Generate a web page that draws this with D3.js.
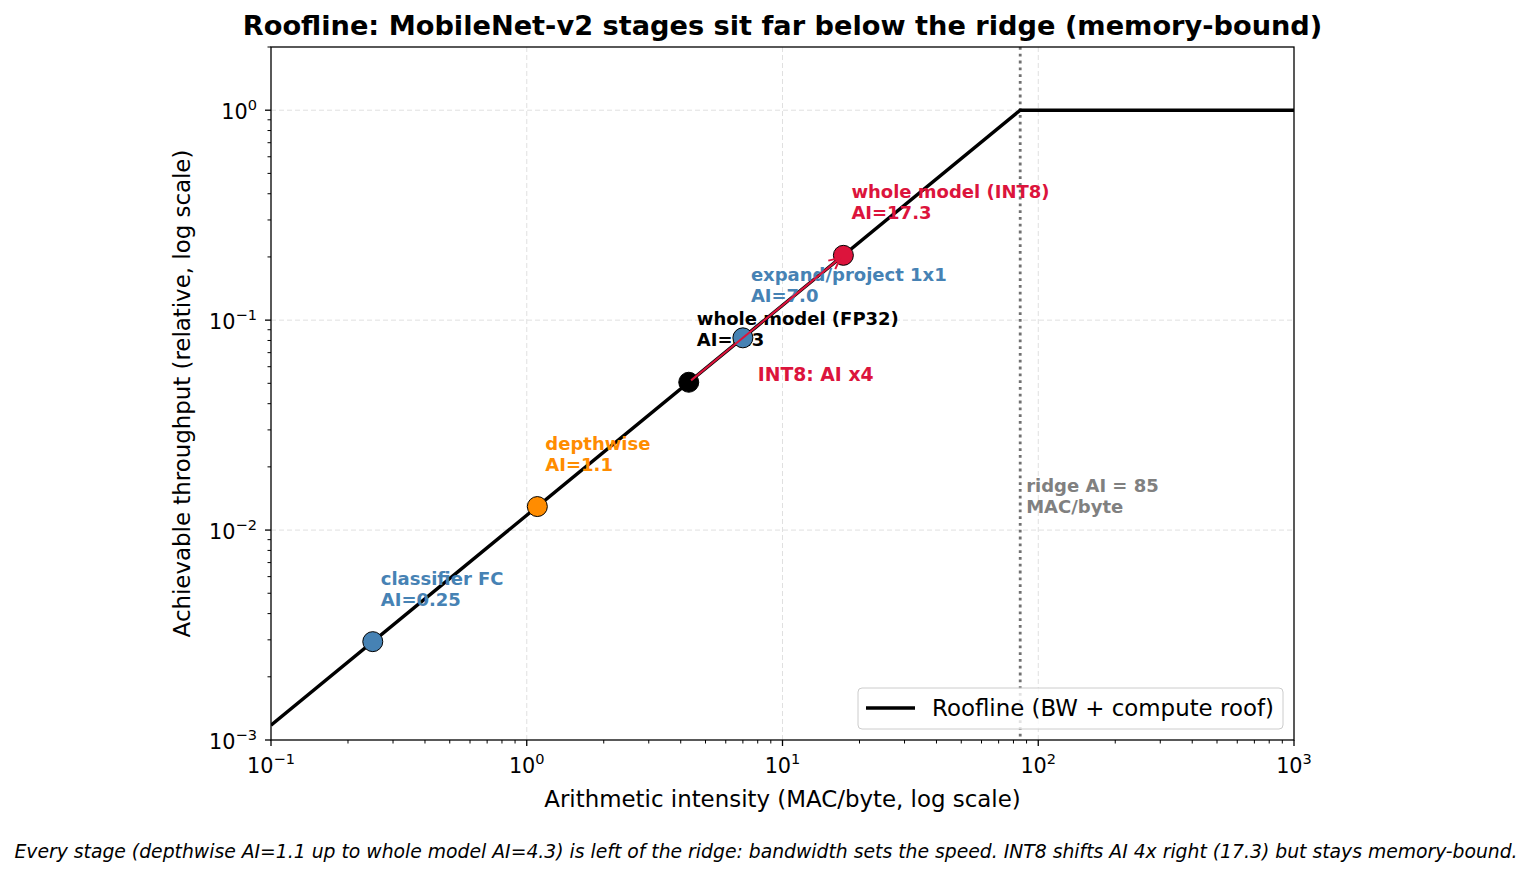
<!DOCTYPE html>
<html>
<head>
<meta charset="utf-8">
<script src="https://cdn.jsdelivr.net/npm/d3@7/dist/d3.min.js"></script>
<style>
  body { margin: 0; padding: 0; background: #fff; }
  svg { display: block; font-family: 'DejaVu Sans', sans-serif; }
</style>
</head>
<body>
<div id="main"></div>
<script>
// --- data ---
const stageNames = ['classifier FC', 'depthwise', 'whole model (FP32)', 'expand/project 1x1', 'whole model (INT8)'];
const stageAI = [0.25, 1.1, 4.3, 7.0, 17.3];
const stageLabels = ['AI=0.25', 'AI=1.1', 'AI=4.3', 'AI=7.0', 'AI=17.3'];
const stageColors = ['steelblue', 'darkorange', 'black', 'steelblue', 'crimson'];
const ridgeAI = 85;
const peakThroughput = 1;
const rooflineAI = [0.1, ridgeAI, 1000];
const xTickExps = [-1, 0, 1, 2, 3];
const yTickExps = [-3, -2, -1, 0];

const WIDTH = 1532, HEIGHT = 876;
const PLOT = {left: 271, right: 1294, top: 47, bottom: 740};

const roof = (ai) => Math.min(ai / ridgeAI, peakThroughput);

const svg = d3.select('#main').append('svg')
    .attr('width', WIDTH)
    .attr('height', HEIGHT);

const scaleX = d3.scaleLog().domain([0.1, 1000]).range([PLOT.left, PLOT.right]);
const scaleY = d3.scaleLog().domain([0.001, 2]).range([PLOT.bottom, PLOT.top]);

// clip for marks inside the axes
svg.append('clipPath').attr('id', 'clip')
    .append('rect')
    .attr('x', PLOT.left).attr('y', PLOT.top)
    .attr('width', PLOT.right - PLOT.left).attr('height', PLOT.bottom - PLOT.top);

// grid (major only)
const grid = svg.append('g').attr('stroke', '#e0e0e0').attr('stroke-width', 1).attr('stroke-dasharray', '5,3');
xTickExps.slice(1, -1).forEach((e) => {
    grid.append('line')
        .attr('x1', scaleX(10 ** e)).attr('x2', scaleX(10 ** e))
        .attr('y1', PLOT.top).attr('y2', PLOT.bottom);
});
yTickExps.slice(1).forEach((e) => {
    grid.append('line')
        .attr('x1', PLOT.left).attr('x2', PLOT.right)
        .attr('y1', scaleY(10 ** e)).attr('y2', scaleY(10 ** e));
});

const plotArea = svg.append('g').attr('clip-path', 'url(#clip)');

// ridge line
plotArea.append('line')
    .attr('x1', scaleX(ridgeAI)).attr('x2', scaleX(ridgeAI))
    .attr('y1', PLOT.top).attr('y2', PLOT.bottom)
    .attr('stroke', '#707070')
    .attr('stroke-width', 2.8)
    .attr('stroke-dasharray', '2.8,4');

// roofline
const line = d3.line().x((d) => scaleX(d)).y((d) => scaleY(roof(d)));
plotArea.append('path')
    .datum(rooflineAI)
    .attr('d', line)
    .attr('fill', 'none')
    .attr('stroke', 'black')
    .attr('stroke-width', 3.4);

// stage labels
const ANNOT = 18;
const labels = svg.append('g')
    .attr('font-size', ANNOT)
    .attr('font-weight', 'bold');
stageAI.forEach((ai, i) => {
    const t = labels.append('text')
        .attr('x', scaleX(ai) + 8)
        .attr('y', scaleY(roof(ai)) - 57)
        .attr('fill', stageColors[i]);
    t.append('tspan').attr('x', scaleX(ai) + 8).text(stageNames[i]);
    t.append('tspan').attr('x', scaleX(ai) + 8).attr('dy', 21).text(stageLabels[i]);
});

// ridge label
const ridgeText = svg.append('text')
    .attr('fill', 'gray')
    .attr('font-size', ANNOT)
    .attr('font-weight', 'bold')
    .attr('x', scaleX(ridgeAI) + 6)
    .attr('y', scaleY(0.012) - 21);
ridgeText.append('tspan').attr('x', scaleX(ridgeAI) + 6).text(`ridge AI = ${ridgeAI}`);
ridgeText.append('tspan').attr('x', scaleX(ridgeAI) + 6).attr('dy', 21).text('MAC/byte');

// markers (all but INT8 go under the arrow)
const markers = svg.append('g');
const drawMarker = (i) => markers.append('circle')
    .attr('cx', scaleX(stageAI[i]))
    .attr('cy', scaleY(roof(stageAI[i])))
    .attr('r', 10)
    .attr('fill', stageColors[i])
    .attr('stroke', 'black')
    .attr('stroke-width', 1);
[0, 1, 2, 3].forEach(drawMarker);

// FP32 -> INT8 arrow
const ax1 = scaleX(stageAI[2]), ay1 = scaleY(roof(stageAI[2]));
const ax2 = scaleX(stageAI[4]), ay2 = scaleY(roof(stageAI[4]));
const ang = Math.atan2(ay2 - ay1, ax2 - ax1);
const tipX = ax2 - 4 * Math.cos(ang), tipY = ay2 - 4 * Math.sin(ang);
const arrow = svg.append('g').attr('stroke', 'crimson').attr('stroke-width', 2).attr('fill', 'none');
arrow.append('line')
    .attr('x1', ax1 + 3 * Math.cos(ang)).attr('y1', ay1 + 3 * Math.sin(ang))
    .attr('x2', tipX).attr('y2', tipY);
const hl = 11, hw = 5.5;
arrow.append('path')
    .attr('d', d3.line()([
        [tipX - hl * Math.cos(ang) + hw * Math.sin(ang), tipY - hl * Math.sin(ang) - hw * Math.cos(ang)],
        [tipX, tipY],
        [tipX - hl * Math.cos(ang) - hw * Math.sin(ang), tipY - hl * Math.sin(ang) + hw * Math.cos(ang)]
    ]))
    .attr('stroke-linejoin', 'miter');
drawMarker(4);

svg.append('text')
    .attr('x', scaleX(8.0))
    .attr('y', scaleY(0.055))
    .attr('dy', '0.35em')
    .attr('fill', 'crimson')
    .attr('font-size', 18.8)
    .attr('font-weight', 'bold')
    .text('INT8: AI x4');

// axes
const tickFont = 20.8;
const xMinor = [];
const yMinor = [];
for (let e = -1; e < 3; e++) for (let k = 2; k < 10; k++) xMinor.push(k * 10 ** e);
for (let e = -3; e < 1; e++) for (let k = 2; k < 10; k++) if (k * 10 ** e <= 2) yMinor.push(k * 10 ** e);

const axes = svg.append('g').attr('stroke', 'black');
xMinor.forEach((v) => axes.append('line')
    .attr('x1', scaleX(v)).attr('x2', scaleX(v))
    .attr('y1', PLOT.bottom).attr('y2', PLOT.bottom + 3.5).attr('stroke-width', 1));
yMinor.forEach((v) => axes.append('line')
    .attr('x1', PLOT.left).attr('x2', PLOT.left - 3.5)
    .attr('y1', scaleY(v)).attr('y2', scaleY(v)).attr('stroke-width', 1));
xTickExps.forEach((e) => axes.append('line')
    .attr('x1', scaleX(10 ** e)).attr('x2', scaleX(10 ** e))
    .attr('y1', PLOT.bottom).attr('y2', PLOT.bottom + 6).attr('stroke-width', 1.3));
yTickExps.forEach((e) => axes.append('line')
    .attr('x1', PLOT.left).attr('x2', PLOT.left - 6)
    .attr('y1', scaleY(10 ** e)).attr('y2', scaleY(10 ** e)).attr('stroke-width', 1.3));

svg.append('rect')
    .attr('x', PLOT.left).attr('y', PLOT.top)
    .attr('width', PLOT.right - PLOT.left).attr('height', PLOT.bottom - PLOT.top)
    .attr('fill', 'none').attr('stroke', 'black').attr('stroke-width', 1.3);

const powLabel = (sel, e) => {
    sel.append('tspan').text('10');
    sel.append('tspan')
        .attr('font-size', tickFont * 0.7)
        .attr('dy', -tickFont * 0.42)
        .text(e < 0 ? '\u2212' + Math.abs(e) : String(e));
};
xTickExps.forEach((e) => {
    const t = svg.append('text')
        .attr('x', scaleX(10 ** e))
        .attr('y', PLOT.bottom + 33)
        .attr('text-anchor', 'middle')
        .attr('font-size', tickFont);
    powLabel(t, e);
});
yTickExps.forEach((e) => {
    const t = svg.append('text')
        .attr('x', PLOT.left - 14)
        .attr('y', scaleY(10 ** e) + 9)
        .attr('text-anchor', 'end')
        .attr('font-size', tickFont);
    powLabel(t, e);
});

// axis titles
svg.append('text')
    .attr('x', (PLOT.left + PLOT.right) / 2)
    .attr('y', 807)
    .attr('text-anchor', 'middle')
    .attr('font-size', 22.9)
    .text('Arithmetic intensity (MAC/byte, log scale)');
svg.append('text')
    .attr('transform', `translate(190, ${(PLOT.top + PLOT.bottom) / 2}) rotate(-90)`)
    .attr('text-anchor', 'middle')
    .attr('font-size', 22.9)
    .text('Achievable throughput (relative, log scale)');

// title
svg.append('text')
    .attr('x', (PLOT.left + PLOT.right) / 2)
    .attr('y', 35)
    .attr('text-anchor', 'middle')
    .attr('font-size', 27.2)
    .attr('font-weight', 'bold')
    .text('Roofline: MobileNet-v2 stages sit far below the ridge (memory-bound)');

// legend
const legend = svg.append('g');
legend.append('rect')
    .attr('x', 858).attr('y', 688)
    .attr('width', 425).attr('height', 41)
    .attr('rx', 4)
    .attr('fill', 'white').attr('fill-opacity', 0.8)
    .attr('stroke', '#cccccc').attr('stroke-width', 1);
legend.append('line')
    .attr('x1', 866).attr('x2', 915)
    .attr('y1', 708).attr('y2', 708)
    .attr('stroke', 'black').attr('stroke-width', 3.4);
legend.append('text')
    .attr('x', 932).attr('y', 716)
    .attr('font-size', 22.9)
    .text('Roofline (BW + compute roof)');

// footer
svg.append('text')
    .attr('x', WIDTH / 2)
    .attr('y', 858)
    .attr('text-anchor', 'middle')
    .attr('font-size', 18.8)
    .attr('font-style', 'italic')
    .text('Every stage (depthwise AI=1.1 up to whole model AI=4.3) is left of the ridge: bandwidth sets the speed. INT8 shifts AI 4x right (17.3) but stays memory-bound.');
</script>
</body>
</html>
